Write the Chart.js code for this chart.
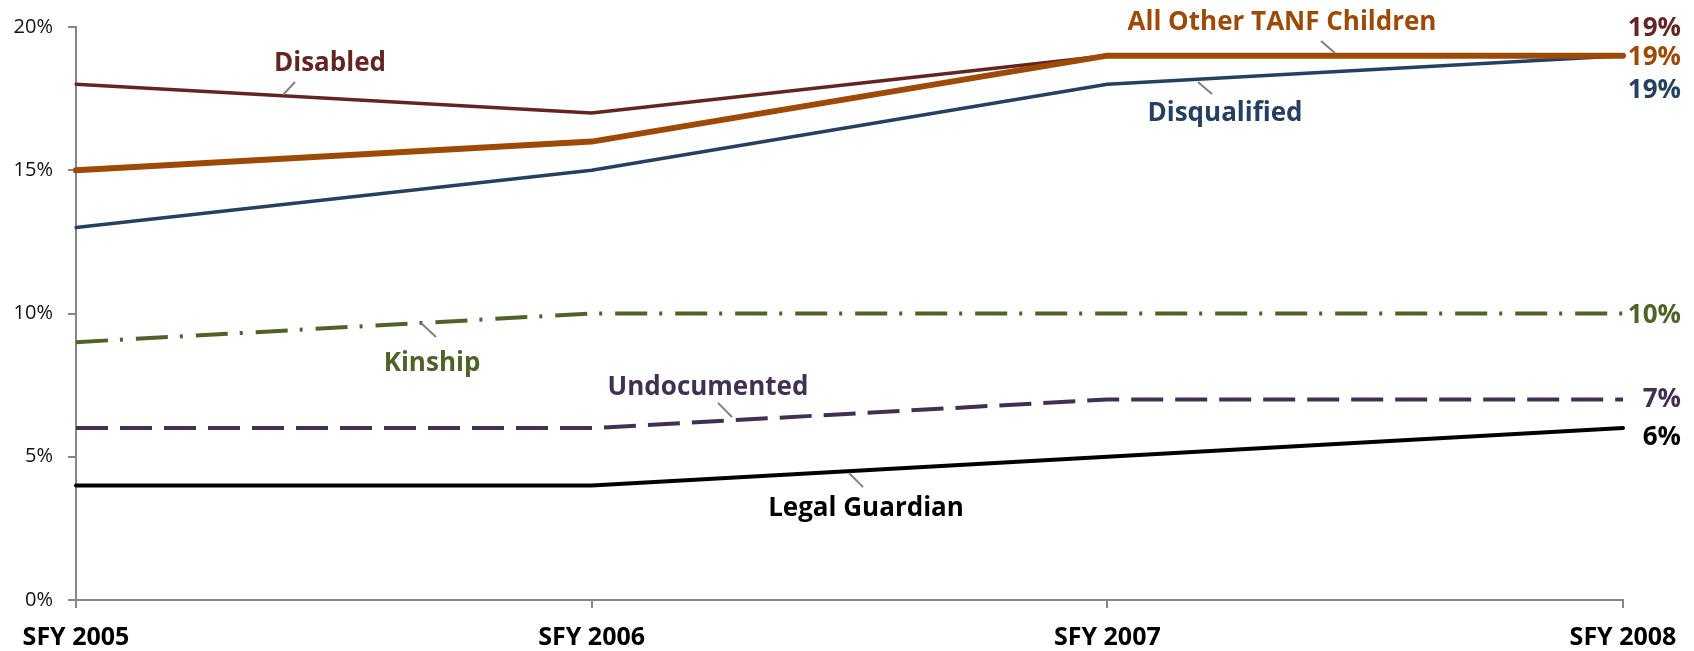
<!DOCTYPE html>
<html>
<head>
<meta charset="utf-8">
<script src="https://cdn.jsdelivr.net/npm/chart.js@4/dist/chart.umd.min.js"></script>
<style>
  html, body { margin: 0; padding: 0; background: #fff; }
  #wrap { width: 1694px; height: 651px; position: relative; }
</style>
</head>
<body>
<div id="wrap"><canvas id="chart"></canvas></div>
<script>
const years = ['SFY 2005', 'SFY 2006', 'SFY 2007', 'SFY 2008'];
const disabled = [18, 17, 19, 19];
const allOtherTanf = [15, 16, 19, 19];
const disqualified = [13, 15, 18, 19];
const kinship = [9, 10, 10, 10];
const undocumented = [6, 6, 7, 7];
const legalGuardian = [4, 4, 5, 6];
const seriesNames = ['All Other TANF Children', 'Disabled', 'Disqualified', 'Kinship', 'Undocumented', 'Legal Guardian'];

const colors = {
  disabled: '#632523',
  tanf: '#9C4A06',
  disqualified: '#254061',
  kinship: '#4F6228',
  undocumented: '#403152',
  legal: '#000000',
};

// callout labels: position in axis units (category index, percent) + leader line
const callouts = [
  { text: seriesNames[1], color: colors.disabled, at: [0.4926, 18.78], leader: [[0.4247, 18.08], [0.4014, 17.63]] },
  { text: seriesNames[0], color: colors.tanf, at: [2.3387, 20.21], leader: [[2.4144, 19.51], [2.4415, 19.09]] },
  { text: seriesNames[2], color: colors.disqualified, at: [2.2282, 17.03], leader: [[2.2030, 17.66], [2.1758, 18.08]] },
  { text: seriesNames[3], color: colors.kinship, at: [0.6904, 8.31], leader: [[0.6981, 9.18], [0.6690, 9.67]] },
  { text: seriesNames[4], color: colors.undocumented, at: [1.2256, 7.50], leader: [[1.2450, 6.88], [1.2721, 6.39]] },
  { text: seriesNames[5], color: colors.legal, at: [1.5320, 3.25], leader: [[1.5262, 3.94], [1.4990, 4.43]] },
];

// end-of-line value labels, vertical nudge in px so the 19% ones don't overlap
const endNudge = [0, -29, 33, 0, -2, 7];

const calloutPlugin = {
  id: 'callouts',
  afterDatasetsDraw(chart) {
    const { ctx, scales: { x, y } } = chart;
    ctx.save();
    ctx.strokeStyle = '#808080';
    ctx.lineWidth = 2;
    callouts.forEach((c) => {
      ctx.beginPath();
      ctx.moveTo(x.getPixelForValue(c.leader[0][0]), y.getPixelForValue(c.leader[0][1]));
      ctx.lineTo(x.getPixelForValue(c.leader[1][0]), y.getPixelForValue(c.leader[1][1]));
      ctx.stroke();
    });
    ctx.font = 'bold 26px "Open Sans"';
    ctx.textAlign = 'center';
    ctx.textBaseline = 'middle';
    // Open Sans sits a little high with 'middle', push text down a touch
    const shift = 2;
    callouts.forEach((c) => {
      ctx.fillStyle = c.color;
      ctx.fillText(c.text, x.getPixelForValue(c.at[0]), y.getPixelForValue(c.at[1]) + shift);
    });
    // value labels at the right end
    ctx.textAlign = 'right';
    const last = years.length - 1;
    chart.data.datasets.forEach((ds, i) => {
      const v = ds.data[last];
      ctx.fillStyle = ds.borderColor;
      ctx.fillText(v + '%', x.getPixelForValue(last) + 58, y.getPixelForValue(v) + endNudge[i] + shift);
    });
    ctx.restore();
  },
};

const ctx = document.getElementById('chart').getContext('2d');
new Chart(ctx, {
  type: 'line',
  data: {
    labels: years,
    datasets: [
      { label: seriesNames[0], data: allOtherTanf, borderColor: colors.tanf, borderWidth: 6 },
      { label: seriesNames[1], data: disabled, borderColor: colors.disabled, borderWidth: 3.5 },
      { label: seriesNames[2], data: disqualified, borderColor: colors.disqualified, borderWidth: 3.5 },
      { label: seriesNames[3], data: kinship, borderColor: colors.kinship, borderWidth: 4, borderDash: [32, 12, 3, 13], borderCapStyle: 'butt' },
      { label: seriesNames[4], data: undocumented, borderColor: colors.undocumented, borderWidth: 4, borderDash: [32, 12], borderCapStyle: 'butt' },
      { label: seriesNames[5], data: legalGuardian, borderColor: colors.legal, borderWidth: 4 },
    ].map((d) => ({ borderCapStyle: 'round', borderJoinStyle: 'round', ...d })),
  },
  options: {
    responsive: true,
    maintainAspectRatio: false,
    animation: false,
    layout: { padding: { top: 27, right: 71, left: 0, bottom: 0 } },
    elements: { point: { radius: 0 }, line: { tension: 0 } },
    plugins: { legend: { display: false }, tooltip: { enabled: false } },
    scales: {
      x: {
        offset: false,
        border: { color: '#868686', width: 2 },
        grid: { drawOnChartArea: false, drawTicks: true, tickLength: 8, color: '#868686', lineWidth: 2 },
        ticks: { color: '#000', padding: 15, maxRotation: 0, font: { family: 'Open Sans', size: 25, weight: 'bold' } },
        afterFit: (s) => { s.height = 51; },
      },
      y: {
        min: 0,
        max: 20,
        border: { color: '#868686', width: 2 },
        grid: { drawOnChartArea: false, drawTicks: true, tickLength: 8, color: '#868686', lineWidth: 2 },
        ticks: { stepSize: 5, color: '#111', padding: 15, font: { family: 'Open Sans', size: 20 }, callback: (v) => v + '%' },
        afterFit: (s) => { s.width = 76; },
      },
    },
  },
  plugins: [calloutPlugin],
});
</script>
</body>
</html>
